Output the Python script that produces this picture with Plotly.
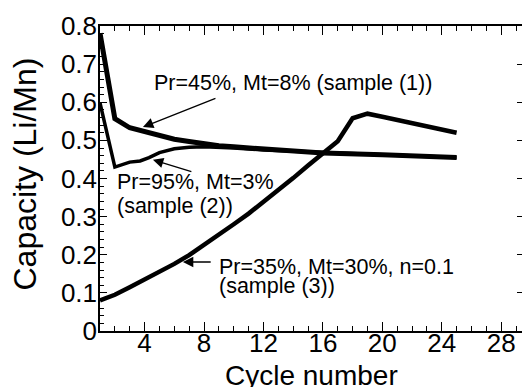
import plotly.graph_objects as go

# ---- data ----
cycles_s1 = [1, 2, 3, 4, 5, 6, 7, 8, 9, 10, 12, 16, 20, 25]
cap_s1 = [0.781, 0.557, 0.533, 0.522, 0.513, 0.503, 0.497, 0.491, 0.486, 0.483, 0.478, 0.467, 0.462, 0.455]

cycles_s2 = [1, 2, 3, 3.7, 4.3, 5, 6, 7, 8, 9, 10, 12, 16, 20, 25]
cap_s2 = [0.598, 0.430, 0.443, 0.446, 0.455, 0.468, 0.478, 0.482, 0.483, 0.482, 0.480, 0.475, 0.468, 0.462, 0.455]

cycles_s3 = [1, 2, 3, 4, 5, 6, 7, 8, 9, 10, 11, 12, 13, 14, 15, 16, 17, 18, 19, 20, 25]
cap_s3 = [0.080, 0.095, 0.115, 0.135, 0.155, 0.176, 0.199, 0.225, 0.252, 0.280, 0.308, 0.338,
          0.369, 0.401, 0.434, 0.467, 0.498, 0.558, 0.570, 0.562, 0.520]

x_ticks = [4, 8, 12, 16, 20, 24, 28]
y_ticks = [0, 0.1, 0.2, 0.3, 0.4, 0.5, 0.6, 0.7, 0.8]
y_tick_text = ["0", "0.1", "0.2", "0.3", "0.4", "0.5", "0.6", "0.7", "0.8"]

label_s1 = "Pr=45%, Mt=8% (sample (1))"
label_s2 = ["Pr=95%, Mt=3%", "(sample (2))"]
label_s3 = ["Pr=35%, Mt=30%, n=0.1", "(sample (3))"]

FONT = "Liberation Sans, Arial, Helvetica, sans-serif"

fig = go.Figure()
fig.add_trace(go.Scatter(x=cycles_s1, y=cap_s1, mode="lines",
                         line=dict(color="black", width=5), showlegend=False))
fig.add_trace(go.Scatter(x=cycles_s2, y=cap_s2, mode="lines",
                         line=dict(color="black", width=3.5), showlegend=False))
fig.add_trace(go.Scatter(x=cycles_s3, y=cap_s3, mode="lines",
                         line=dict(color="black", width=4.5), showlegend=False))
# invisible trace to activate right-hand tick axis
fig.add_trace(go.Scatter(x=[1], y=[0], yaxis="y2", mode="markers",
                         marker=dict(opacity=0), showlegend=False, hoverinfo="skip"))

ann = []
txt_font = dict(family=FONT, size=21.5, color="black")
ann.append(dict(x=4.5, y=0.651, text=label_s1, showarrow=False, xanchor="left",
                yanchor="middle", font=txt_font))
ann.append(dict(x=2.0, y=0.391, text=label_s2[0], showarrow=False, xanchor="left",
                yanchor="middle", font=txt_font))
ann.append(dict(x=2.0, y=0.327, text=label_s2[1], showarrow=False, xanchor="left",
                yanchor="middle", font=txt_font))
ann.append(dict(x=8.87, y=0.167, text=label_s3[0], showarrow=False, xanchor="left",
                yanchor="middle", font=txt_font))
ann.append(dict(x=8.87, y=0.119, text=label_s3[1], showarrow=False, xanchor="left",
                yanchor="middle", font=txt_font))
# arrows
arrow_style = dict(showarrow=True, arrowhead=2, arrowsize=1.6, arrowwidth=1.3,
                   arrowcolor="black", text="", axref="x", ayref="y", standoff=0)
ann.append(dict(x=3.89, y=0.535, ax=8.87, ay=0.612, **arrow_style))
ann.append(dict(x=4.56, y=0.449, ax=7.25, ay=0.417, **arrow_style))
ann.append(dict(x=6.58, y=0.181, ax=8.55, ay=0.181, **arrow_style))

# axis titles
ann.append(dict(x=0.5, y=0, xref="paper", yref="paper", text="Cycle number",
                showarrow=False, xanchor="center", yanchor="middle", yshift=-44,
                font=dict(family=FONT, size=28, color="black")))
ann.append(dict(x=0, y=0.5, xref="paper", yref="paper", text="Capacity (Li/Mn)",
                showarrow=False, xanchor="center", yanchor="middle", xshift=-76,
                yshift=4, textangle=-90,
                font=dict(family=FONT, size=32, color="black")))

fig.update_layout(
    width=522, height=387,
    margin=dict(l=100, r=0, t=26, b=56),
    paper_bgcolor="white", plot_bgcolor="white",
    font=dict(family=FONT, size=26, color="black"),
    annotations=ann,
    xaxis=dict(range=[1, 29.4], tickmode="array", tickvals=x_ticks,
               ticks="inside", ticklen=9, tickwidth=1.2, tickcolor="black",
               showline=True, linecolor="black", linewidth=1.5, mirror="ticks",
               showgrid=False, zeroline=False, ticklabelstandoff=-12,
               minor=dict(dtick=1, tick0=0, ticks="inside", ticklen=5,
                          tickwidth=1, tickcolor="black", showgrid=False),
               tickfont=dict(family=FONT, size=26, color="black")),
    yaxis=dict(range=[0, 0.8], tickmode="array", tickvals=y_ticks, ticktext=y_tick_text,
               ticks="inside", ticklen=7, tickwidth=1.2, tickcolor="black",
               showline=True, linecolor="black", linewidth=1.5, mirror=False,
               showgrid=False, zeroline=False, ticklabelstandoff=-4,
               minor=dict(dtick=0.02, tick0=0, ticks="inside", ticklen=4,
                          tickwidth=1, tickcolor="black", showgrid=False),
               tickfont=dict(family=FONT, size=26, color="black")),
    yaxis2=dict(range=[0, 0.8], overlaying="y", side="right", tickmode="array",
                tickvals=y_ticks, ticks="inside", ticklen=5, tickwidth=1.2,
                tickcolor="black", showticklabels=False, showline=False,
                showgrid=False, zeroline=False),
)

fig.write_html("out.html")
